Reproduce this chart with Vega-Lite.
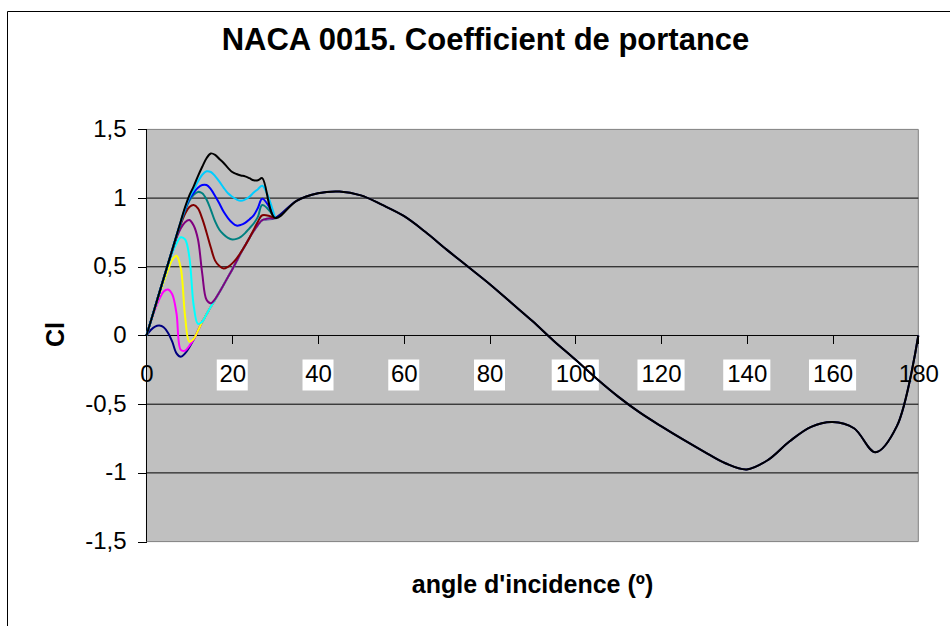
{
"$schema":"https://vega.github.io/schema/vega-lite/v6.json",
"width":957,"height":620,
"autosize":{"type":"none"},
"padding":{"left":7,"top":11,"right":0,"bottom":0},
"background":"white",
"title":{"text":"NACA 0015. Coefficient de portance","font":"Liberation Sans","fontSize":31,"fontWeight":"bold","color":"#000","anchor":"middle","frame":"group","offset":-40,"dy":30,"baseline":"alphabetic"},
"config":{"view":{"stroke":"#000","strokeWidth":1,"fill":"#fff"},"font":"Liberation Sans"},
"datasets":{
"grid":[{"v":-1},{"v":-0.5},{"v":0},{"v":0.5},{"v":1}],
"ticks":[{"t":20},{"t":40},{"t":60},{"t":80},{"t":100},{"t":120},{"t":140},{"t":160}],
"cl":[
{"s":"Re=10000","a":0,"c":0},{"s":"Re=10000","a":1,"c":0.04},{"s":"Re=10000","a":2,"c":0.065},{"s":"Re=10000","a":3,"c":0.072},{"s":"Re=10000","a":4,"c":0.06},{"s":"Re=10000","a":5,"c":0.02},{"s":"Re=10000","a":6,"c":-0.045},{"s":"Re=10000","a":7,"c":-0.13},{"s":"Re=10000","a":8,"c":-0.155},{"s":"Re=10000","a":9,"c":-0.13},{"s":"Re=10000","a":10,"c":-0.085},{"s":"Re=10000","a":11,"c":-0.03},{"s":"Re=10000","a":12,"c":0.035},{"s":"Re=10000","a":13,"c":0.1},{"s":"Re=10000","a":14,"c":0.155},{"s":"Re=10000","a":15,"c":0.21},{"s":"Re=10000","a":16,"c":0.26},{"s":"Re=10000","a":17,"c":0.315},{"s":"Re=10000","a":18,"c":0.37},{"s":"Re=10000","a":19,"c":0.425},{"s":"Re=10000","a":20,"c":0.48},{"s":"Re=10000","a":21,"c":0.54},{"s":"Re=10000","a":22,"c":0.6},{"s":"Re=10000","a":23,"c":0.655},{"s":"Re=10000","a":24,"c":0.71},{"s":"Re=10000","a":25,"c":0.76},{"s":"Re=10000","a":26,"c":0.805},{"s":"Re=10000","a":27,"c":0.84},{"s":"Re=10000","a":30,"c":0.855},
{"s":"Re=10000","a":35,"c":0.98},{"s":"Re=10000","a":40,"c":1.035},{"s":"Re=10000","a":45,"c":1.048},{"s":"Re=10000","a":50,"c":1.02},{"s":"Re=10000","a":55,"c":0.95},{"s":"Re=10000","a":60,"c":0.87},{"s":"Re=10000","a":65,"c":0.755},{"s":"Re=10000","a":70,"c":0.625},{"s":"Re=10000","a":75,"c":0.5},{"s":"Re=10000","a":80,"c":0.375},{"s":"Re=10000","a":85,"c":0.24},{"s":"Re=10000","a":90,"c":0.105},{"s":"Re=10000","a":95,"c":-0.04},{"s":"Re=10000","a":100,"c":-0.175},{"s":"Re=10000","a":105,"c":-0.315},{"s":"Re=10000","a":110,"c":-0.445},{"s":"Re=10000","a":115,"c":-0.56},{"s":"Re=10000","a":120,"c":-0.66},{"s":"Re=10000","a":125,"c":-0.755},{"s":"Re=10000","a":130,"c":-0.845},{"s":"Re=10000","a":135,"c":-0.93},{"s":"Re=10000","a":140,"c":-0.975},{"s":"Re=10000","a":145,"c":-0.905},{"s":"Re=10000","a":150,"c":-0.77},{"s":"Re=10000","a":155,"c":-0.665},{"s":"Re=10000","a":160,"c":-0.63},{"s":"Re=10000","a":165,"c":-0.675},{"s":"Re=10000","a":170,"c":-0.85},{"s":"Re=10000","a":175,"c":-0.66},{"s":"Re=10000","a":180,"c":0},
{"s":"Re=20000","a":0,"c":0},{"s":"Re=20000","a":1,"c":0.1},{"s":"Re=20000","a":2,"c":0.19},{"s":"Re=20000","a":3,"c":0.265},{"s":"Re=20000","a":4,"c":0.32},{"s":"Re=20000","a":5,"c":0.335},{"s":"Re=20000","a":6,"c":0.3},{"s":"Re=20000","a":7,"c":0.16},{"s":"Re=20000","a":8,"c":-0.105},{"s":"Re=20000","a":9,"c":-0.11},{"s":"Re=20000","a":10,"c":-0.075},{"s":"Re=20000","a":11,"c":-0.03},{"s":"Re=20000","a":12,"c":0.035},{"s":"Re=20000","a":13,"c":0.1},{"s":"Re=20000","a":14,"c":0.155},{"s":"Re=20000","a":15,"c":0.21},{"s":"Re=20000","a":16,"c":0.26},{"s":"Re=20000","a":17,"c":0.315},{"s":"Re=20000","a":18,"c":0.37},{"s":"Re=20000","a":19,"c":0.425},{"s":"Re=20000","a":20,"c":0.48},{"s":"Re=20000","a":21,"c":0.54},{"s":"Re=20000","a":22,"c":0.6},{"s":"Re=20000","a":23,"c":0.655},{"s":"Re=20000","a":24,"c":0.71},{"s":"Re=20000","a":25,"c":0.76},{"s":"Re=20000","a":26,"c":0.805},{"s":"Re=20000","a":27,"c":0.84},{"s":"Re=20000","a":30,"c":0.855},
{"s":"Re=40000","a":0,"c":0},{"s":"Re=40000","a":1,"c":0.1},{"s":"Re=40000","a":2,"c":0.2},{"s":"Re=40000","a":3,"c":0.3},{"s":"Re=40000","a":4,"c":0.39},{"s":"Re=40000","a":5,"c":0.475},{"s":"Re=40000","a":6,"c":0.55},{"s":"Re=40000","a":7,"c":0.58},{"s":"Re=40000","a":8,"c":0.49},{"s":"Re=40000","a":9,"c":0.14},{"s":"Re=40000","a":10,"c":-0.045},{"s":"Re=40000","a":11,"c":-0.025},{"s":"Re=40000","a":12,"c":0.035},{"s":"Re=40000","a":13,"c":0.1},{"s":"Re=40000","a":14,"c":0.155},{"s":"Re=40000","a":15,"c":0.21},{"s":"Re=40000","a":16,"c":0.26},{"s":"Re=40000","a":17,"c":0.315},{"s":"Re=40000","a":18,"c":0.37},{"s":"Re=40000","a":19,"c":0.425},{"s":"Re=40000","a":20,"c":0.48},{"s":"Re=40000","a":21,"c":0.54},{"s":"Re=40000","a":22,"c":0.6},{"s":"Re=40000","a":23,"c":0.655},{"s":"Re=40000","a":24,"c":0.71},{"s":"Re=40000","a":25,"c":0.76},{"s":"Re=40000","a":26,"c":0.805},{"s":"Re=40000","a":27,"c":0.84},{"s":"Re=40000","a":30,"c":0.855},
{"s":"Re=80000","a":0,"c":0},{"s":"Re=80000","a":1,"c":0.104},{"s":"Re=80000","a":2,"c":0.208},{"s":"Re=80000","a":3,"c":0.31},{"s":"Re=80000","a":4,"c":0.41},{"s":"Re=80000","a":5,"c":0.51},{"s":"Re=80000","a":6,"c":0.6},{"s":"Re=80000","a":7,"c":0.67},{"s":"Re=80000","a":8,"c":0.715},{"s":"Re=80000","a":9,"c":0.7},{"s":"Re=80000","a":10,"c":0.57},{"s":"Re=80000","a":11,"c":0.22},{"s":"Re=80000","a":12,"c":0.085},{"s":"Re=80000","a":13,"c":0.1},{"s":"Re=80000","a":14,"c":0.155},{"s":"Re=80000","a":15,"c":0.21},{"s":"Re=80000","a":16,"c":0.26},{"s":"Re=80000","a":17,"c":0.315},{"s":"Re=80000","a":18,"c":0.37},{"s":"Re=80000","a":19,"c":0.425},{"s":"Re=80000","a":20,"c":0.48},{"s":"Re=80000","a":21,"c":0.54},{"s":"Re=80000","a":22,"c":0.6},{"s":"Re=80000","a":23,"c":0.655},{"s":"Re=80000","a":24,"c":0.71},{"s":"Re=80000","a":25,"c":0.76},{"s":"Re=80000","a":26,"c":0.805},{"s":"Re=80000","a":27,"c":0.84},{"s":"Re=80000","a":30,"c":0.855},
{"s":"Re=160000","a":0,"c":0},{"s":"Re=160000","a":1,"c":0.104},{"s":"Re=160000","a":2,"c":0.208},{"s":"Re=160000","a":3,"c":0.312},{"s":"Re=160000","a":4,"c":0.415},{"s":"Re=160000","a":5,"c":0.515},{"s":"Re=160000","a":6,"c":0.615},{"s":"Re=160000","a":7,"c":0.71},{"s":"Re=160000","a":8,"c":0.78},{"s":"Re=160000","a":9,"c":0.825},{"s":"Re=160000","a":10,"c":0.84},{"s":"Re=160000","a":11,"c":0.8},{"s":"Re=160000","a":12,"c":0.7},{"s":"Re=160000","a":13,"c":0.45},{"s":"Re=160000","a":14,"c":0.26},{"s":"Re=160000","a":15,"c":0.235},{"s":"Re=160000","a":16,"c":0.265},{"s":"Re=160000","a":17,"c":0.315},{"s":"Re=160000","a":18,"c":0.37},{"s":"Re=160000","a":19,"c":0.425},{"s":"Re=160000","a":20,"c":0.48},{"s":"Re=160000","a":21,"c":0.54},{"s":"Re=160000","a":22,"c":0.6},{"s":"Re=160000","a":23,"c":0.655},{"s":"Re=160000","a":24,"c":0.71},{"s":"Re=160000","a":25,"c":0.76},{"s":"Re=160000","a":26,"c":0.805},{"s":"Re=160000","a":27,"c":0.84},{"s":"Re=160000","a":30,"c":0.855},
{"s":"Re=360000","a":0,"c":0},{"s":"Re=360000","a":1,"c":0.104},{"s":"Re=360000","a":2,"c":0.208},{"s":"Re=360000","a":3,"c":0.312},{"s":"Re=360000","a":4,"c":0.416},{"s":"Re=360000","a":5,"c":0.52},{"s":"Re=360000","a":6,"c":0.62},{"s":"Re=360000","a":7,"c":0.72},{"s":"Re=360000","a":8,"c":0.81},{"s":"Re=360000","a":9,"c":0.885},{"s":"Re=360000","a":10,"c":0.935},{"s":"Re=360000","a":11,"c":0.95},{"s":"Re=360000","a":12,"c":0.925},{"s":"Re=360000","a":13,"c":0.85},{"s":"Re=360000","a":14,"c":0.75},{"s":"Re=360000","a":15,"c":0.64},{"s":"Re=360000","a":16,"c":0.545},{"s":"Re=360000","a":17,"c":0.505},{"s":"Re=360000","a":18,"c":0.487},{"s":"Re=360000","a":19,"c":0.5},{"s":"Re=360000","a":20,"c":0.525},{"s":"Re=360000","a":21,"c":0.56},{"s":"Re=360000","a":22,"c":0.605},{"s":"Re=360000","a":23,"c":0.655},{"s":"Re=360000","a":24,"c":0.71},{"s":"Re=360000","a":25,"c":0.77},{"s":"Re=360000","a":26,"c":0.83},{"s":"Re=360000","a":27,"c":0.875},{"s":"Re=360000","a":30,"c":0.855},
{"s":"Re=700000","a":0,"c":0},{"s":"Re=700000","a":1,"c":0.104},{"s":"Re=700000","a":2,"c":0.208},{"s":"Re=700000","a":3,"c":0.312},{"s":"Re=700000","a":4,"c":0.416},{"s":"Re=700000","a":5,"c":0.52},{"s":"Re=700000","a":6,"c":0.622},{"s":"Re=700000","a":7,"c":0.725},{"s":"Re=700000","a":8,"c":0.82},{"s":"Re=700000","a":9,"c":0.91},{"s":"Re=700000","a":10,"c":0.98},{"s":"Re=700000","a":11,"c":1.025},{"s":"Re=700000","a":12,"c":1.045},{"s":"Re=700000","a":13,"c":1.035},{"s":"Re=700000","a":14,"c":0.99},{"s":"Re=700000","a":15,"c":0.915},{"s":"Re=700000","a":16,"c":0.83},{"s":"Re=700000","a":17,"c":0.77},{"s":"Re=700000","a":18,"c":0.735},{"s":"Re=700000","a":19,"c":0.71},{"s":"Re=700000","a":20,"c":0.698},{"s":"Re=700000","a":21,"c":0.703},{"s":"Re=700000","a":22,"c":0.718},{"s":"Re=700000","a":23,"c":0.745},{"s":"Re=700000","a":24,"c":0.78},{"s":"Re=700000","a":25,"c":0.815},{"s":"Re=700000","a":26,"c":0.865},{"s":"Re=700000","a":27,"c":0.95},{"s":"Re=700000","a":30,"c":0.855},
{"s":"Re=1000000","a":0,"c":0},{"s":"Re=1000000","a":1,"c":0.104},{"s":"Re=1000000","a":2,"c":0.208},{"s":"Re=1000000","a":3,"c":0.312},{"s":"Re=1000000","a":4,"c":0.416},{"s":"Re=1000000","a":5,"c":0.52},{"s":"Re=1000000","a":6,"c":0.624},{"s":"Re=1000000","a":7,"c":0.727},{"s":"Re=1000000","a":8,"c":0.828},{"s":"Re=1000000","a":9,"c":0.92},{"s":"Re=1000000","a":10,"c":0.995},{"s":"Re=1000000","a":11,"c":1.04},{"s":"Re=1000000","a":12,"c":1.075},{"s":"Re=1000000","a":13,"c":1.095},{"s":"Re=1000000","a":14,"c":1.095},{"s":"Re=1000000","a":15,"c":1.065},{"s":"Re=1000000","a":16,"c":1.015},{"s":"Re=1000000","a":17,"c":0.96},{"s":"Re=1000000","a":18,"c":0.9},{"s":"Re=1000000","a":19,"c":0.855},{"s":"Re=1000000","a":20,"c":0.82},{"s":"Re=1000000","a":21,"c":0.8},{"s":"Re=1000000","a":22,"c":0.805},{"s":"Re=1000000","a":23,"c":0.82},{"s":"Re=1000000","a":24,"c":0.845},{"s":"Re=1000000","a":25,"c":0.875},{"s":"Re=1000000","a":26,"c":0.93},{"s":"Re=1000000","a":27,"c":0.995},{"s":"Re=1000000","a":30,"c":0.855},
{"s":"Re=2000000","a":0,"c":0},{"s":"Re=2000000","a":1,"c":0.104},{"s":"Re=2000000","a":2,"c":0.208},{"s":"Re=2000000","a":3,"c":0.312},{"s":"Re=2000000","a":4,"c":0.416},{"s":"Re=2000000","a":5,"c":0.52},{"s":"Re=2000000","a":6,"c":0.624},{"s":"Re=2000000","a":7,"c":0.728},{"s":"Re=2000000","a":8,"c":0.83},{"s":"Re=2000000","a":9,"c":0.925},{"s":"Re=2000000","a":10,"c":1.005},{"s":"Re=2000000","a":11,"c":1.06},{"s":"Re=2000000","a":12,"c":1.12},{"s":"Re=2000000","a":13,"c":1.17},{"s":"Re=2000000","a":14,"c":1.195},{"s":"Re=2000000","a":15,"c":1.19},{"s":"Re=2000000","a":16,"c":1.16},{"s":"Re=2000000","a":17,"c":1.12},{"s":"Re=2000000","a":18,"c":1.075},{"s":"Re=2000000","a":19,"c":1.035},{"s":"Re=2000000","a":20,"c":1.01},{"s":"Re=2000000","a":21,"c":0.99},{"s":"Re=2000000","a":22,"c":0.98},{"s":"Re=2000000","a":23,"c":0.99},{"s":"Re=2000000","a":24,"c":1.01},{"s":"Re=2000000","a":25,"c":1.04},{"s":"Re=2000000","a":26,"c":1.065},{"s":"Re=2000000","a":27,"c":1.09},{"s":"Re=2000000","a":30,"c":0.855},
{"s":"Re=5000000","a":0,"c":0},{"s":"Re=5000000","a":1,"c":0.104},{"s":"Re=5000000","a":2,"c":0.208},{"s":"Re=5000000","a":3,"c":0.312},{"s":"Re=5000000","a":4,"c":0.416},{"s":"Re=5000000","a":5,"c":0.52},{"s":"Re=5000000","a":6,"c":0.624},{"s":"Re=5000000","a":7,"c":0.728},{"s":"Re=5000000","a":8,"c":0.832},{"s":"Re=5000000","a":9,"c":0.935},{"s":"Re=5000000","a":10,"c":1.02},{"s":"Re=5000000","a":11,"c":1.085},{"s":"Re=5000000","a":12,"c":1.16},{"s":"Re=5000000","a":13,"c":1.228},{"s":"Re=5000000","a":14,"c":1.29},{"s":"Re=5000000","a":15,"c":1.325},{"s":"Re=5000000","a":16,"c":1.315},{"s":"Re=5000000","a":17,"c":1.285},{"s":"Re=5000000","a":18,"c":1.255},{"s":"Re=5000000","a":19,"c":1.22},{"s":"Re=5000000","a":20,"c":1.19},{"s":"Re=5000000","a":21,"c":1.175},{"s":"Re=5000000","a":22,"c":1.165},{"s":"Re=5000000","a":23,"c":1.158},{"s":"Re=5000000","a":24,"c":1.145},{"s":"Re=5000000","a":25,"c":1.13},{"s":"Re=5000000","a":26,"c":1.13},{"s":"Re=5000000","a":27,"c":1.145},{"s":"Re=5000000","a":30,"c":0.855},
{"s":"Re=5000000","a":35,"c":0.98},{"s":"Re=5000000","a":40,"c":1.035},{"s":"Re=5000000","a":45,"c":1.048},{"s":"Re=5000000","a":50,"c":1.02},{"s":"Re=5000000","a":55,"c":0.95},{"s":"Re=5000000","a":60,"c":0.87},{"s":"Re=5000000","a":65,"c":0.755},{"s":"Re=5000000","a":70,"c":0.625},{"s":"Re=5000000","a":75,"c":0.5},{"s":"Re=5000000","a":80,"c":0.375},{"s":"Re=5000000","a":85,"c":0.24},{"s":"Re=5000000","a":90,"c":0.105},{"s":"Re=5000000","a":95,"c":-0.04},{"s":"Re=5000000","a":100,"c":-0.175},{"s":"Re=5000000","a":105,"c":-0.315},{"s":"Re=5000000","a":110,"c":-0.445},{"s":"Re=5000000","a":115,"c":-0.56},{"s":"Re=5000000","a":120,"c":-0.66},{"s":"Re=5000000","a":125,"c":-0.755},{"s":"Re=5000000","a":130,"c":-0.845},{"s":"Re=5000000","a":135,"c":-0.93},{"s":"Re=5000000","a":140,"c":-0.975},{"s":"Re=5000000","a":145,"c":-0.905},{"s":"Re=5000000","a":150,"c":-0.77},{"s":"Re=5000000","a":155,"c":-0.665},{"s":"Re=5000000","a":160,"c":-0.63},{"s":"Re=5000000","a":165,"c":-0.675},{"s":"Re=5000000","a":170,"c":-0.85},{"s":"Re=5000000","a":175,"c":-0.66},{"s":"Re=5000000","a":180,"c":0}
]},
"layer":[
{"data":{"values":[{}]},
 "mark":{"type":"rect","fill":"#c0c0c0","stroke":"#808080","strokeWidth":1},
 "encoding":{
  "x":{"datum":0,"type":"quantitative","scale":{"domain":[-32.534,190.658],"nice":false,"zero":false},
   "axis":{"title":"angle d'incidence (º)","orient":"bottom","offset":-295.5,"values":[0,20,40,60,80,100,120,140,160,180],"format":"d","domain":false,"grid":false,"tickSize":8,"tickColor":"#000","tickWidth":1,"labelFont":"Liberation Sans","labelFontSize":24,"labelColor":"#000","labelBaseline":"middle","labelPadding":31,"labelFlush":false,"labelOverlap":false,"titleFont":"Liberation Sans","titleFontSize":25,"titleFontWeight":"bold","titleColor":"#000","titleX":525,"titleY":248.5,"titleBaseline":"middle","titleAlign":"center","zindex":2}},
  "x2":{"datum":180},
  "y":{"datum":-1.5,"type":"quantitative","scale":{"domain":[-2.1507,2.3617],"nice":false,"zero":false},
   "axis":{"title":"Cl","orient":"left","offset":-139.5,"values":[-1.5,-1,-0.5,0,0.5,1,1.5],"labelExpr":"replace(toString(datum.value), '.', ',')","domain":false,"grid":false,"tickSize":9,"tickColor":"#000","tickWidth":1,"labelFont":"Liberation Sans","labelFontSize":24,"labelColor":"#000","labelPadding":11.5,"labelFlush":false,"labelOverlap":false,"titleFont":"Liberation Sans","titleFontSize":25,"titleFontWeight":"bold","titleColor":"#000","titleX":-91.5,"titleY":323,"titleAngle":270,"titleBaseline":"middle","titleAlign":"center","zindex":1}},
  "y2":{"datum":1.5}}},
{"data":{"name":"grid"},
 "mark":{"type":"rule","color":"#000","strokeWidth":1},
 "encoding":{"y":{"field":"v","type":"quantitative"},"x":{"datum":0},"x2":{"datum":180}}},
{"data":{"values":[{}]},
 "mark":{"type":"rule","color":"#000","strokeWidth":1},
 "encoding":{"x":{"datum":0},"y":{"datum":-1.5},"y2":{"datum":1.5}}},
{"data":{"name":"ticks"},
 "mark":{"type":"point","filled":true,"fill":"#fff","opacity":1,"strokeWidth":0,"size":961,"yOffset":39.5},
 "encoding":{"x":{"field":"t","type":"quantitative"},"y":{"datum":0},
  "shape":{"condition":{"test":"datum.t >= 100","value":"M-1.52,-1H1.52V1H-1.52Z"},"value":"M-1,-1H1V1H-1Z"}}},
{"data":{"name":"cl"},
 "mark":{"type":"line","interpolate":"catmull-rom","strokeWidth":2},
 "encoding":{"x":{"field":"a","type":"quantitative"},"y":{"field":"c","type":"quantitative"},
  "color":{"field":"s","type":"nominal","legend":null,
   "scale":{"domain":["Re=10000","Re=20000","Re=40000","Re=80000","Re=160000","Re=360000","Re=700000","Re=1000000","Re=2000000","Re=5000000"],
    "range":["#000080","#ff00ff","#ffff00","#00ffff","#800080","#800000","#008080","#0000ff","#00ccff","#000000"]}}}}
]
}
